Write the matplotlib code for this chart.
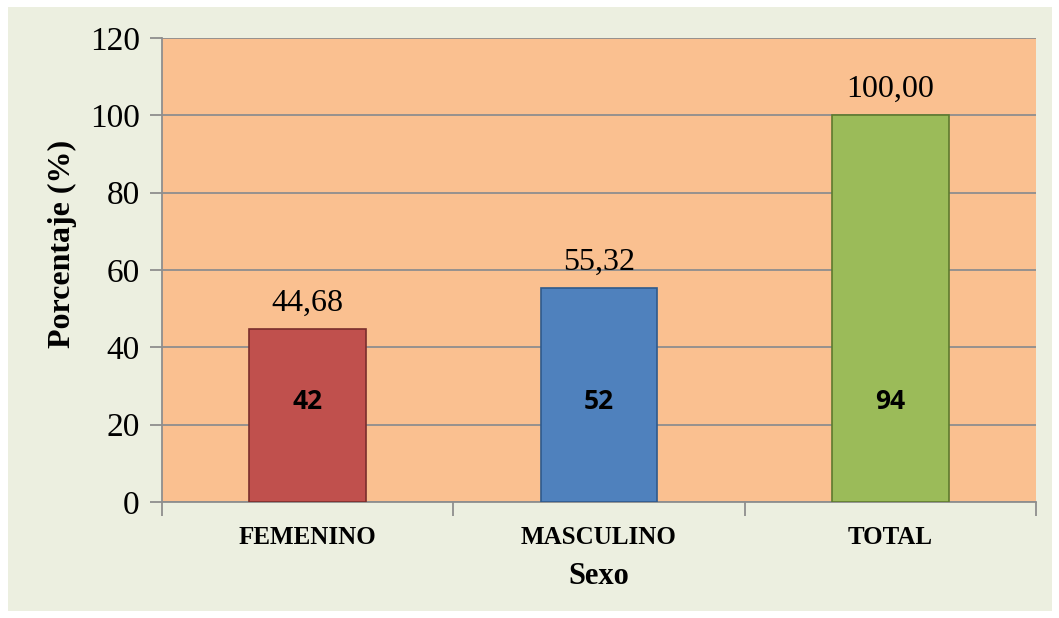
import numpy as np
import matplotlib.pyplot as plt
from matplotlib.patches import Rectangle

# datos
categorias = ["FEMENINO", "MASCULINO", "TOTAL"]
porcentajes = [44.68, 55.32, 100.00]
frecuencias = [42, 52, 94]
colores = ["#C0504D", "#4F81BD", "#9BBB59"]
bordes = ["#7A2E2C", "#2F5A8C", "#5E7A2E"]
yticks = [0, 20, 40, 60, 80, 100, 120]

plt.rcParams['font.family'] = ['Liberation Serif', 'DejaVu Serif']

fig = plt.figure(figsize=(10.59, 6.18), dpi=100)
fig.patch.set_facecolor("white")
fig.patches.append(Rectangle((8 / 1059, 7 / 618), 1044 / 1059, 604 / 618,
                             transform=fig.transFigure, facecolor="#ECEFE0",
                             edgecolor="none", zorder=-10))

ax = fig.add_axes([162 / 1059, 1 - 502 / 618, 874 / 1059, 464 / 618])
ax.set_facecolor("#FAC090")

x = np.arange(len(categorias))
barras = ax.bar(x, porcentajes, width=0.4, color=colores, edgecolor=bordes,
                linewidth=1.2, zorder=3)

for xi, p, f in zip(x, porcentajes, frecuencias):
    ax.text(xi, p + 3, ("%.2f" % p).replace(".", ","), ha="center", va="bottom",
            fontsize=23, zorder=4)
    ax.text(xi, 26, str(f), ha="center", va="center", fontsize=19,
            fontweight="bold", family=["Open Sans", "DejaVu Sans"], zorder=4)

ax.set_xlim(-0.5, 2.5)
ax.set_ylim(0, 120)
ax.set_yticks(yticks)
ax.set_yticklabels([str(v) for v in yticks], fontsize=24)
ax.yaxis.grid(True, color="#8E8E8E", linewidth=1.3, zorder=1)
ax.set_axisbelow(True)

# ticks en los limites entre categorias
ax.set_xticks([-0.5, 0.5, 1.5, 2.5])
ax.set_xticklabels([])
ax.set_xticks(x, minor=True)
ax.set_xticklabels(categorias, minor=True, fontsize=18, fontweight="bold")
ax.tick_params(axis="x", which="major", length=10, color="#8E8E8E", width=1.3)
ax.tick_params(axis="x", which="minor", length=0, pad=17)
ax.tick_params(axis="y", length=9, color="#8E8E8E", width=1.3, pad=7)

for lado in ["top", "right"]:
    ax.spines[lado].set_visible(False)
for lado in ["left", "bottom"]:
    ax.spines[lado].set_color("#8E8E8E")
    ax.spines[lado].set_linewidth(1.3)

ax.set_xlabel("Sexo", fontsize=22, fontweight="bold", labelpad=10)
ax.set_ylabel("Porcentaje (%)", fontsize=23, fontweight="bold", labelpad=9)
ax.yaxis.label.set_y(0.556)

fig.savefig("out.png", dpi=100, facecolor=fig.get_facecolor())
